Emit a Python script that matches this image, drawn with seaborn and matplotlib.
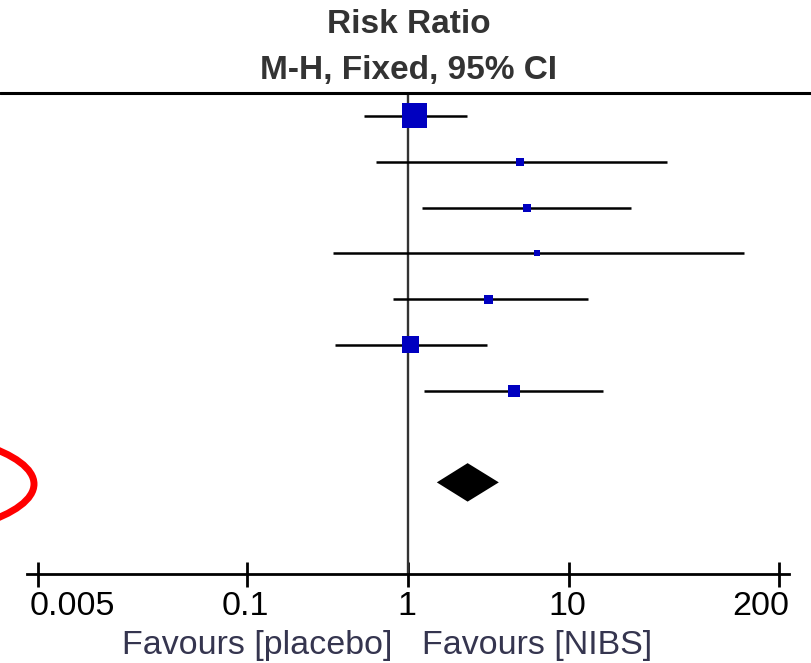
import numpy as np
import pandas as pd
import matplotlib
matplotlib.use("Agg")
import matplotlib.pyplot as plt
import matplotlib.transforms as mtransforms
import seaborn as sns
from matplotlib.lines import Line2D
from matplotlib.patches import Ellipse

# study estimates (risk ratio, 95% CI) and weights
rr = [1.09, 4.96, 5.42, 6.26, 3.16, 1.03, 4.50]
ci_lo = [0.53, 0.63, 1.21, 0.34, 0.80, 0.35, 1.25]
ci_hi = [2.31, 40.2, 24.2, 121.0, 13.0, 3.09, 16.2]
weight = [48.0, 4.9, 4.9, 2.8, 6.2, 22.2, 11.1]

# pooled estimate
total_rr = 2.33
total_lo = 1.50
total_hi = 3.64

tick_vals = [0.005, 0.1, 1, 10, 200]
tick_labels = ["0.005", "0.1", "1", "10", "200"]

df = pd.DataFrame({"row": np.arange(len(rr)), "rr": rr, "lo": ci_lo, "hi": ci_hi, "w": weight})
# square area proportional to weight
df["s"] = 324 * df["w"] / max(weight)

sns.set_style("white")
plt.rcParams["font.family"] = ["Liberation Sans", "DejaVu Sans"]

fig = plt.figure(figsize=(8.12, 6.63), dpi=100)
ax = fig.add_axes([27 / 812, 89 / 663, 762 / 812, 481 / 663])
ax.set_xscale("log")
ax.set_xlim(0.00427, 231)
ax.set_ylim(10, -0.5)

ax.axvline(1, color="#333333", lw=1.7, zorder=1)
ax.hlines(df["row"], df["lo"], df["hi"], color="black", lw=1.8, zorder=2)
sns.scatterplot(data=df, x="rr", y="row", s=df["s"], marker="s", color="#0000c0",
                linewidth=0, ax=ax, zorder=3, legend=False)

drow = 8
ax.fill([total_lo, total_rr, total_hi, total_rr],
        [drow, drow - 0.42, drow, drow + 0.42], color="black", lw=0, zorder=3)

for sp in ["left", "right", "top"]:
    ax.spines[sp].set_visible(False)
ax.spines["bottom"].set_color("black")
ax.spines["bottom"].set_linewidth(2.0)
ax.set_yticks([])
ax.set_xticks(tick_vals)
ax.set_xticklabels(tick_labels)
ax.minorticks_off()
ax.tick_params(axis="x", direction="inout", length=18, width=2.0, pad=3,
               labelsize=24.5, colors="black", bottom=True)
ax.set_xlabel("")
ax.set_ylabel("")

# end labels sit inside the axis ends
labs = ax.get_xticklabels()
labs[0].set_ha("left")
labs[0].set_transform(labs[0].get_transform() + mtransforms.ScaledTranslation(-0.08, 0, fig.dpi_scale_trans))
labs[-1].set_ha("right")
labs[-1].set_transform(labs[-1].get_transform() + mtransforms.ScaledTranslation(0.10, 0, fig.dpi_scale_trans))
for lab in labs[1:-1]:
    lab.set_transform(lab.get_transform() + mtransforms.ScaledTranslation(-0.02, 0, fig.dpi_scale_trans))

# header
ax.text(1, -2, "Risk Ratio", ha="center", va="center", fontsize=24,
        fontweight="bold", color="#333333", clip_on=False)
ax.text(1, -1, "M-H, Fixed, 95% CI", ha="center", va="center", fontsize=24,
        fontweight="bold", color="#333333", clip_on=False)
fig.add_artist(Line2D([0, 1], [1 - 93 / 663] * 2, transform=fig.transFigure,
                      color="black", lw=2.2))

# favours labels
ax.annotate("Favours [placebo]", xy=(1, 11.55), xytext=(-16, 0), textcoords="offset pixels",
            ha="right", va="center", fontsize=24.5, color="#35354f", annotation_clip=False)
ax.annotate("Favours [NIBS]", xy=(1, 11.55), xytext=(14, 0), textcoords="offset pixels",
            ha="left", va="center", fontsize=24.5, color="#35354f", annotation_clip=False)

# red highlight
fig.add_artist(Ellipse((-150 / 812, 1 - 484 / 663), 368 / 812, 114 / 663,
                       transform=fig.transFigure, fill=False, edgecolor="red", lw=5))

plt.savefig("out.png", dpi=100)
